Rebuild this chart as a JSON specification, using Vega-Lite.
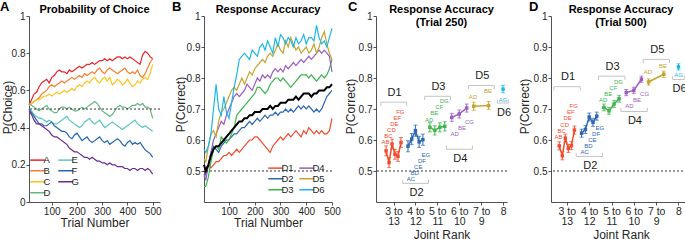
{
"$schema": "https://vega.github.io/schema/vega-lite/v6.json",
"padding": {"left": -1, "top": 0, "right": 0, "bottom": 0},
"bounds": "flush",
"spacing": 44,
"resolve": {"scale": {"x": "independent", "y": "independent", "color": "independent"}, "legend": {"color": "independent"}},
"datasets": {
"choice": [
{"t":10,"A":0.52,"B":0.52,"C":0.52,"D":0.53,"E":0.50,"F":0.50,"G":0.49},
{"t":20,"A":0.55,"B":0.53,"C":0.53,"D":0.52,"E":0.49,"F":0.48,"G":0.47},
{"t":30,"A":0.58,"B":0.54,"C":0.54,"D":0.51,"E":0.47,"F":0.46,"G":0.44},
{"t":40,"A":0.59,"B":0.55,"C":0.55,"D":0.50,"E":0.46,"F":0.44,"G":0.42},
{"t":50,"A":0.62,"B":0.56,"C":0.55,"D":0.49,"E":0.45,"F":0.42,"G":0.42},
{"t":60,"A":0.64,"B":0.58,"C":0.56,"D":0.50,"E":0.45,"F":0.42,"G":0.41},
{"t":70,"A":0.65,"B":0.59,"C":0.57,"D":0.51,"E":0.44,"F":0.41,"G":0.40},
{"t":80,"A":0.66,"B":0.60,"C":0.57,"D":0.52,"E":0.43,"F":0.41,"G":0.39},
{"t":90,"A":0.64,"B":0.62,"C":0.58,"D":0.50,"E":0.44,"F":0.42,"G":0.38},
{"t":100,"A":0.67,"B":0.63,"C":0.57,"D":0.49,"E":0.43,"F":0.43,"G":0.36},
{"t":110,"A":0.68,"B":0.62,"C":0.58,"D":0.48,"E":0.42,"F":0.41,"G":0.35},
{"t":120,"A":0.70,"B":0.63,"C":0.59,"D":0.48,"E":0.42,"F":0.40,"G":0.35},
{"t":130,"A":0.71,"B":0.64,"C":0.58,"D":0.50,"E":0.43,"F":0.39,"G":0.34},
{"t":140,"A":0.70,"B":0.65,"C":0.59,"D":0.51,"E":0.44,"F":0.38,"G":0.33},
{"t":150,"A":0.70,"B":0.64,"C":0.60,"D":0.51,"E":0.45,"F":0.38,"G":0.32},
{"t":160,"A":0.69,"B":0.65,"C":0.59,"D":0.50,"E":0.46,"F":0.37,"G":0.31},
{"t":170,"A":0.71,"B":0.66,"C":0.60,"D":0.51,"E":0.44,"F":0.35,"G":0.29},
{"t":180,"A":0.70,"B":0.67,"C":0.61,"D":0.50,"E":0.43,"F":0.34,"G":0.28},
{"t":190,"A":0.71,"B":0.66,"C":0.60,"D":0.49,"E":0.42,"F":0.36,"G":0.27},
{"t":200,"A":0.72,"B":0.67,"C":0.62,"D":0.49,"E":0.41,"F":0.37,"G":0.27},
{"t":210,"A":0.73,"B":0.68,"C":0.63,"D":0.50,"E":0.40,"F":0.35,"G":0.26},
{"t":220,"A":0.72,"B":0.67,"C":0.62,"D":0.51,"E":0.41,"F":0.33,"G":0.25},
{"t":230,"A":0.73,"B":0.69,"C":0.64,"D":0.50,"E":0.43,"F":0.34,"G":0.24},
{"t":240,"A":0.74,"B":0.68,"C":0.65,"D":0.51,"E":0.44,"F":0.35,"G":0.24},
{"t":250,"A":0.74,"B":0.69,"C":0.64,"D":0.52,"E":0.45,"F":0.33,"G":0.23},
{"t":260,"A":0.75,"B":0.70,"C":0.66,"D":0.53,"E":0.43,"F":0.32,"G":0.24},
{"t":270,"A":0.74,"B":0.69,"C":0.67,"D":0.54,"E":0.42,"F":0.33,"G":0.23},
{"t":280,"A":0.75,"B":0.71,"C":0.65,"D":0.53,"E":0.43,"F":0.34,"G":0.22},
{"t":290,"A":0.76,"B":0.72,"C":0.64,"D":0.51,"E":0.44,"F":0.35,"G":0.22},
{"t":300,"A":0.76,"B":0.70,"C":0.66,"D":0.49,"E":0.42,"F":0.33,"G":0.21},
{"t":310,"A":0.77,"B":0.69,"C":0.67,"D":0.48,"E":0.40,"F":0.32,"G":0.21},
{"t":320,"A":0.76,"B":0.71,"C":0.65,"D":0.47,"E":0.41,"F":0.33,"G":0.20},
{"t":330,"A":0.77,"B":0.72,"C":0.67,"D":0.46,"E":0.42,"F":0.31,"G":0.21},
{"t":340,"A":0.76,"B":0.71,"C":0.63,"D":0.47,"E":0.43,"F":0.32,"G":0.20},
{"t":350,"A":0.77,"B":0.70,"C":0.64,"D":0.49,"E":0.42,"F":0.33,"G":0.20},
{"t":360,"A":0.78,"B":0.69,"C":0.66,"D":0.51,"E":0.41,"F":0.34,"G":0.19},
{"t":370,"A":0.78,"B":0.70,"C":0.65,"D":0.52,"E":0.40,"F":0.33,"G":0.19},
{"t":380,"A":0.77,"B":0.71,"C":0.63,"D":0.51,"E":0.39,"F":0.31,"G":0.19},
{"t":390,"A":0.78,"B":0.72,"C":0.64,"D":0.51,"E":0.40,"F":0.30,"G":0.18},
{"t":400,"A":0.77,"B":0.70,"C":0.66,"D":0.50,"E":0.41,"F":0.32,"G":0.18},
{"t":410,"A":0.78,"B":0.69,"C":0.64,"D":0.51,"E":0.42,"F":0.33,"G":0.17},
{"t":420,"A":0.77,"B":0.70,"C":0.62,"D":0.52,"E":0.43,"F":0.31,"G":0.18},
{"t":430,"A":0.76,"B":0.69,"C":0.63,"D":0.52,"E":0.44,"F":0.32,"G":0.18},
{"t":440,"A":0.75,"B":0.71,"C":0.65,"D":0.53,"E":0.42,"F":0.31,"G":0.17},
{"t":450,"A":0.74,"B":0.68,"C":0.64,"D":0.52,"E":0.41,"F":0.32,"G":0.18},
{"t":460,"A":0.79,"B":0.67,"C":0.66,"D":0.53,"E":0.40,"F":0.30,"G":0.18},
{"t":470,"A":0.81,"B":0.69,"C":0.67,"D":0.51,"E":0.41,"F":0.28,"G":0.17},
{"t":480,"A":0.80,"B":0.72,"C":0.66,"D":0.51,"E":0.40,"F":0.27,"G":0.18},
{"t":490,"A":0.78,"B":0.75,"C":0.69,"D":0.50,"E":0.39,"F":0.26,"G":0.17},
{"t":500,"A":0.77,"B":0.77,"C":0.74,"D":0.45,"E":0.38,"F":0.24,"G":0.15}
],
"acc": [
{"t":3,"D1":0.50,"D2":0.48,"D3":0.45,"D4":0.49,"D5":0.54,"D6":0.57,"All":0.52},
{"t":10,"D1":0.51,"D2":0.49,"D3":0.45,"D4":0.47,"D5":0.53,"D6":0.56,"All":0.50},
{"t":20,"D1":0.52,"D2":0.52,"D3":0.48,"D4":0.52,"D5":0.58,"D6":0.58,"All":0.52},
{"t":30,"D1":0.51,"D2":0.56,"D3":0.53,"D4":0.56,"D5":0.62,"D6":0.62,"All":0.55},
{"t":40,"D1":0.52,"D2":0.58,"D3":0.57,"D4":0.60,"D5":0.63,"D6":0.70,"All":0.57},
{"t":50,"D1":0.53,"D2":0.57,"D3":0.58,"D4":0.62,"D5":0.61,"D6":0.78,"All":0.58},
{"t":60,"D1":0.53,"D2":0.56,"D3":0.57,"D4":0.64,"D5":0.66,"D6":0.70,"All":0.58},
{"t":70,"D1":0.54,"D2":0.58,"D3":0.61,"D4":0.66,"D5":0.69,"D6":0.68,"All":0.59},
{"t":80,"D1":0.55,"D2":0.59,"D3":0.60,"D4":0.65,"D5":0.70,"D6":0.74,"All":0.60},
{"t":90,"D1":0.55,"D2":0.60,"D3":0.59,"D4":0.68,"D5":0.72,"D6":0.69,"All":0.61},
{"t":100,"D1":0.56,"D2":0.60,"D3":0.60,"D4":0.70,"D5":0.74,"D6":0.67,"All":0.62},
{"t":110,"D1":0.55,"D2":0.61,"D3":0.62,"D4":0.72,"D5":0.76,"D6":0.72,"All":0.63},
{"t":120,"D1":0.56,"D2":0.62,"D3":0.64,"D4":0.74,"D5":0.77,"D6":0.77,"All":0.64},
{"t":130,"D1":0.57,"D2":0.62,"D3":0.68,"D4":0.75,"D5":0.76,"D6":0.81,"All":0.65},
{"t":140,"D1":0.56,"D2":0.63,"D3":0.69,"D4":0.74,"D5":0.78,"D6":0.86,"All":0.66},
{"t":150,"D1":0.57,"D2":0.64,"D3":0.70,"D4":0.75,"D5":0.80,"D6":0.87,"All":0.66},
{"t":160,"D1":0.58,"D2":0.64,"D3":0.71,"D4":0.76,"D5":0.78,"D6":0.88,"All":0.67},
{"t":170,"D1":0.59,"D2":0.65,"D3":0.72,"D4":0.78,"D5":0.80,"D6":0.87,"All":0.67},
{"t":180,"D1":0.60,"D2":0.66,"D3":0.73,"D4":0.77,"D5":0.82,"D6":0.86,"All":0.68},
{"t":190,"D1":0.60,"D2":0.65,"D3":0.74,"D4":0.76,"D5":0.81,"D6":0.89,"All":0.68},
{"t":200,"D1":0.61,"D2":0.66,"D3":0.75,"D4":0.78,"D5":0.83,"D6":0.88,"All":0.69},
{"t":210,"D1":0.61,"D2":0.67,"D3":0.77,"D4":0.80,"D5":0.84,"D6":0.87,"All":0.69},
{"t":220,"D1":0.60,"D2":0.66,"D3":0.77,"D4":0.79,"D5":0.85,"D6":0.90,"All":0.69},
{"t":230,"D1":0.59,"D2":0.67,"D3":0.76,"D4":0.81,"D5":0.86,"D6":0.91,"All":0.70},
{"t":240,"D1":0.58,"D2":0.68,"D3":0.75,"D4":0.80,"D5":0.85,"D6":0.89,"All":0.70},
{"t":250,"D1":0.57,"D2":0.67,"D3":0.76,"D4":0.81,"D5":0.87,"D6":0.92,"All":0.70},
{"t":260,"D1":0.56,"D2":0.68,"D3":0.78,"D4":0.80,"D5":0.88,"D6":0.90,"All":0.71},
{"t":270,"D1":0.58,"D2":0.68,"D3":0.79,"D4":0.82,"D5":0.87,"D6":0.88,"All":0.70},
{"t":280,"D1":0.59,"D2":0.69,"D3":0.80,"D4":0.83,"D5":0.89,"D6":0.93,"All":0.71},
{"t":290,"D1":0.60,"D2":0.68,"D3":0.80,"D4":0.82,"D5":0.91,"D6":0.90,"All":0.71},
{"t":300,"D1":0.61,"D2":0.69,"D3":0.79,"D4":0.83,"D5":0.89,"D6":0.94,"All":0.72},
{"t":310,"D1":0.60,"D2":0.69,"D3":0.80,"D4":0.82,"D5":0.88,"D6":0.93,"All":0.72},
{"t":320,"D1":0.61,"D2":0.70,"D3":0.79,"D4":0.84,"D5":0.92,"D6":0.91,"All":0.72},
{"t":330,"D1":0.62,"D2":0.69,"D3":0.78,"D4":0.83,"D5":0.90,"D6":0.93,"All":0.73},
{"t":340,"D1":0.61,"D2":0.70,"D3":0.77,"D4":0.84,"D5":0.93,"D6":0.92,"All":0.73},
{"t":350,"D1":0.62,"D2":0.69,"D3":0.78,"D4":0.85,"D5":0.91,"D6":0.90,"All":0.73},
{"t":360,"D1":0.63,"D2":0.70,"D3":0.79,"D4":0.84,"D5":0.89,"D6":0.93,"All":0.74},
{"t":370,"D1":0.62,"D2":0.71,"D3":0.80,"D4":0.85,"D5":0.90,"D6":0.91,"All":0.73},
{"t":380,"D1":0.61,"D2":0.70,"D3":0.81,"D4":0.86,"D5":0.88,"D6":0.92,"All":0.74},
{"t":390,"D1":0.63,"D2":0.71,"D3":0.81,"D4":0.85,"D5":0.89,"D6":0.94,"All":0.75},
{"t":400,"D1":0.62,"D2":0.70,"D3":0.81,"D4":0.86,"D5":0.90,"D6":0.91,"All":0.75},
{"t":410,"D1":0.64,"D2":0.71,"D3":0.80,"D4":0.87,"D5":0.88,"D6":0.93,"All":0.75},
{"t":420,"D1":0.63,"D2":0.70,"D3":0.81,"D4":0.86,"D5":0.89,"D6":0.93,"All":0.74},
{"t":430,"D1":0.62,"D2":0.69,"D3":0.80,"D4":0.87,"D5":0.91,"D6":0.92,"All":0.75},
{"t":440,"D1":0.63,"D2":0.70,"D3":0.79,"D4":0.88,"D5":0.88,"D6":0.97,"All":0.75},
{"t":450,"D1":0.62,"D2":0.69,"D3":0.80,"D4":0.89,"D5":0.90,"D6":0.93,"All":0.76},
{"t":460,"D1":0.63,"D2":0.70,"D3":0.81,"D4":0.88,"D5":0.93,"D6":0.91,"All":0.76},
{"t":470,"D1":0.62,"D2":0.72,"D3":0.80,"D4":0.89,"D5":0.95,"D6":0.92,"All":0.76},
{"t":480,"D1":0.62,"D2":0.74,"D3":0.81,"D4":0.88,"D5":0.91,"D6":0.90,"All":0.77},
{"t":490,"D1":0.63,"D2":0.75,"D3":0.83,"D4":0.87,"D5":0.88,"D6":0.93,"All":0.77},
{"t":500,"D1":0.67,"D2":0.76,"D3":0.86,"D4":0.82,"D5":0.86,"D6":0.96,"All":0.78}
],
"pairs": [
{"panel":"C","d":1,"i":0,"n":6,"pair":"AB","p":0.565,"e":0.016},
{"panel":"C","d":1,"i":1,"n":6,"pair":"BC","p":0.527,"e":0.016},
{"panel":"C","d":1,"i":2,"n":6,"pair":"CD","p":0.587,"e":0.016},
{"panel":"C","d":1,"i":3,"n":6,"pair":"DE","p":0.554,"e":0.016},
{"panel":"C","d":1,"i":4,"n":6,"pair":"EF","p":0.547,"e":0.016},
{"panel":"C","d":1,"i":5,"n":6,"pair":"FG","p":0.592,"e":0.016},
{"panel":"C","d":2,"i":0,"n":5,"pair":"AC","p":0.580,"e":0.018},
{"panel":"C","d":2,"i":1,"n":5,"pair":"BD","p":0.603,"e":0.018},
{"panel":"C","d":2,"i":2,"n":5,"pair":"CE","p":0.630,"e":0.018},
{"panel":"C","d":2,"i":3,"n":5,"pair":"DF","p":0.594,"e":0.018},
{"panel":"C","d":2,"i":4,"n":5,"pair":"EG","p":0.601,"e":0.018},
{"panel":"C","d":3,"i":0,"n":4,"pair":"AD","p":0.641,"e":0.015},
{"panel":"C","d":3,"i":1,"n":4,"pair":"BE","p":0.631,"e":0.015},
{"panel":"C","d":3,"i":2,"n":4,"pair":"CF","p":0.641,"e":0.015},
{"panel":"C","d":3,"i":3,"n":4,"pair":"DG","p":0.644,"e":0.015},
{"panel":"C","d":4,"i":0,"n":3,"pair":"AD","p":0.673,"e":0.013},
{"panel":"C","d":4,"i":1,"n":3,"pair":"BE","p":0.684,"e":0.013},
{"panel":"C","d":4,"i":2,"n":3,"pair":"CG","p":0.703,"e":0.013},
{"panel":"C","d":5,"i":0,"n":2,"pair":"AD","p":0.709,"e":0.013},
{"panel":"C","d":5,"i":1,"n":2,"pair":"BE","p":0.711,"e":0.013},
{"panel":"C","d":6,"i":0,"n":1,"pair":"AG","p":0.764,"e":0.012},
{"panel":"D","d":1,"i":0,"n":6,"pair":"AB","p":0.581,"e":0.013},
{"panel":"D","d":1,"i":1,"n":6,"pair":"BC","p":0.549,"e":0.013},
{"panel":"D","d":1,"i":2,"n":6,"pair":"CD","p":0.606,"e":0.013},
{"panel":"D","d":1,"i":3,"n":6,"pair":"DE","p":0.573,"e":0.013},
{"panel":"D","d":1,"i":4,"n":6,"pair":"EF","p":0.582,"e":0.013},
{"panel":"D","d":1,"i":5,"n":6,"pair":"FG","p":0.632,"e":0.013},
{"panel":"D","d":2,"i":0,"n":5,"pair":"AC","p":0.622,"e":0.013},
{"panel":"D","d":2,"i":1,"n":5,"pair":"BD","p":0.634,"e":0.013},
{"panel":"D","d":2,"i":2,"n":5,"pair":"CE","p":0.674,"e":0.013},
{"panel":"D","d":2,"i":3,"n":5,"pair":"DF","p":0.657,"e":0.013},
{"panel":"D","d":2,"i":4,"n":5,"pair":"EG","p":0.677,"e":0.013},
{"panel":"D","d":3,"i":0,"n":4,"pair":"AD","p":0.705,"e":0.011},
{"panel":"D","d":3,"i":1,"n":4,"pair":"BE","p":0.694,"e":0.011},
{"panel":"D","d":3,"i":2,"n":4,"pair":"CF","p":0.716,"e":0.011},
{"panel":"D","d":3,"i":3,"n":4,"pair":"DG","p":0.733,"e":0.011},
{"panel":"D","d":4,"i":0,"n":3,"pair":"AD","p":0.753,"e":0.010},
{"panel":"D","d":4,"i":1,"n":3,"pair":"BE","p":0.760,"e":0.010},
{"panel":"D","d":4,"i":2,"n":3,"pair":"CG","p":0.796,"e":0.010},
{"panel":"D","d":5,"i":0,"n":2,"pair":"AD","p":0.787,"e":0.010},
{"panel":"D","d":5,"i":1,"n":2,"pair":"BE","p":0.812,"e":0.010},
{"panel":"D","d":6,"i":0,"n":1,"pair":"AG","p":0.836,"e":0.010}
],
"groups": [
{"panel":"C","d":1},{"panel":"C","d":2},{"panel":"C","d":3},{"panel":"C","d":4},{"panel":"C","d":5},{"panel":"C","d":6},
{"panel":"D","d":1},{"panel":"D","d":2},{"panel":"D","d":3},{"panel":"D","d":4},{"panel":"D","d":5},{"panel":"D","d":6}
]
},
"hconcat": [
{
"width": 131, "height": 186,
"title": {"text": "Probability of Choice", "offset": -14},
"layer": [
{"data": {"name": "choice"},
 "transform": [{"fold": ["A","B","C","D","E","F","G"], "as": ["series","value"]}],
 "mark": {"type": "line", "strokeWidth": 1.2},
 "encoding": {
  "x": {"field": "t", "type": "quantitative", "scale": {"domain": [10, 529], "nice": false, "zero": false}, "axis": {"values": [100,200,300,400,500], "tickCount": 20, "labelOverlap": false, "labelFlush": false, "title": "Trial Number", "titlePadding": 1}},
  "y": {"field": "value", "type": "quantitative", "scale": {"domain": [0, 1], "nice": false}, "axis": {"values": [0,0.2,0.4,0.6,0.8,1], "tickCount": 20, "labelOverlap": false, "labelFlush": false, "format": ".1~f", "title": "P(Choice)", "titleX": -22, "titleY": 91, "titleBaseline": "middle", "titleAlign": "center"}},
  "color": {"field": "series", "type": "nominal", "scale": {"domain": ["A","B","C","D","E","F","G"], "range": ["#e8242a","#f57e2f","#fcc417","#62b97e","#5ec7c0","#2466b1","#6b2b8f"]},
   "legend": {"orient": "bottom-left", "columns": 2, "values": ["A","B","C","D","E","F","G"], "title": null, "symbolType": "M-2,0H2", "symbolSize": 56, "symbolStrokeWidth": 1.5, "labelFontSize": 9.5, "rowPadding": 0, "columnPadding": 4, "offset": 4, "labelOffset": 1, "padding": 0}}
 }},
{"data": {"values": [{}]},
 "mark": {"type": "rule", "strokeDash": [2, 2], "color": "#000", "strokeWidth": 0.8},
 "encoding": {"y": {"datum": 0.5, "type": "quantitative"}}},
{"data": {"values": [{}]},
 "mark": {"type": "text", "text": "A", "fontSize": 13, "fontWeight": "bold", "align": "left", "baseline": "alphabetic", "color": "#000"},
 "encoding": {"x": {"datum": -105, "type": "quantitative"}, "y": {"datum": 1.027, "type": "quantitative"}}}
]
},
{
"width": 128, "height": 186,
"title": {"text": "Response Accuracy", "offset": -14},
"layer": [
{"data": {"name": "acc"},
 "transform": [{"fold": ["D1","D2","D3","D4","D5","D6"], "as": ["series","value"]}],
 "mark": {"type": "line", "strokeWidth": 1.2},
 "encoding": {
  "x": {"field": "t", "type": "quantitative", "scale": {"domain": [3, 500], "nice": false, "zero": false}, "axis": {"values": [100,200,300,400,500], "tickCount": 20, "labelOverlap": false, "labelFlush": false, "title": "Trial Number", "titlePadding": 1}},
  "y": {"field": "value", "type": "quantitative", "scale": {"domain": [0.4, 1], "nice": false, "zero": false}, "axis": {"values": [0.5,0.6,0.7,0.8,0.9,1], "tickCount": 20, "labelOverlap": false, "labelFlush": false, "format": ".1~f", "title": "P(Correct)", "titleX": -24, "titleY": 88, "titleBaseline": "middle", "titleAlign": "center"}},
  "color": {"field": "series", "type": "nominal", "scale": {"domain": ["D1","D2","D3","D4","D5","D6"], "range": ["#f04b2c","#2c67b4","#3db54c","#9b5dc1","#c5a42e","#1db7e7"]},
   "legend": {"orient": "bottom-right", "columns": 2, "values": ["D1","D2","D3","D4","D5","D6"], "title": null, "symbolType": "M-2,0H2", "symbolSize": 56, "symbolStrokeWidth": 1.5, "labelFontSize": 9.5, "rowPadding": 0, "columnPadding": 2, "offset": 7, "labelOffset": 1, "padding": 0}}
 }},
{"data": {"name": "acc"},
 "mark": {"type": "line", "strokeWidth": 2, "color": "#000"},
 "encoding": {
  "x": {"field": "t", "type": "quantitative"},
  "y": {"field": "All", "type": "quantitative"}
 }},
{"data": {"values": [{}]},
 "mark": {"type": "rule", "strokeDash": [2, 2], "color": "#000", "strokeWidth": 0.8},
 "encoding": {"y": {"datum": 0.5, "type": "quantitative"}}},
{"data": {"values": [{}]},
 "mark": {"type": "text", "text": "B", "fontSize": 13, "fontWeight": "bold", "align": "left", "baseline": "alphabetic", "color": "#000"},
 "encoding": {"x": {"datum": -121, "type": "quantitative"}, "y": {"datum": 1.016, "type": "quantitative"}}}
]
},
{
"width": 131, "height": 186,
"title": {"text": ["Response Accuracy", "(Trial 250)"], "lineHeight": 13, "offset": -27},
"layer": [
{"data": {"values": [{}]},
 "mark": {"type": "rule", "strokeDash": [2, 2], "color": "#000", "strokeWidth": 0.8},
 "encoding": {"y": {"datum": 0.5, "type": "quantitative", "scale": {"domain": [0.4, 1], "nice": false, "zero": false}, "axis": {"values": [0.5,0.6,0.7,0.8,0.9,1], "tickCount": 20, "labelOverlap": false, "labelFlush": false, "format": ".1~f", "title": "P(Correct)", "titleX": -26, "titleY": 90, "titleBaseline": "middle", "titleAlign": "center"}}}},
{"data": {"name": "groups"},
 "transform": [
  {"filter": "datum.panel == 'C'"},
  {"calculate": "[0, 0.722, 0.46, 0.741, 0.57, 0.776, 0.719][datum.d]", "as": "by"},
  {"calculate": "datum.d % 2 == 1 ? 1 : -1", "as": "side"},
  {"calculate": "datum.by - datum.side * 0.012", "as": "bend"},
  {"calculate": "datum.by + datum.side * 0.031", "as": "ty"},
  {"calculate": "datum.d == 6 ? datum.d - 0.26 : datum.d - 0.58", "as": "bx1"},
  {"calculate": "datum.d == 6 ? datum.d + 0.26 : datum.d + 0.6", "as": "bx2"},
  {"calculate": "datum.d + 0.05", "as": "tx"},
  {"calculate": "'D' + datum.d", "as": "grp"}
 ],
 "layer": [
  {"mark": {"type": "rule", "color": "#c4c4c4", "strokeWidth": 1},
   "encoding": {"x": {"field": "bx1", "type": "quantitative", "scale": {"domain": [0.2, 6.18], "nice": false, "zero": false}, "axis": {"values": [1,2,3,4,5,6], "tickCount": 20, "labelOverlap": false, "labelFlush": false, "labelExpr": "datum.value == 6 ? '8' : [(datum.value + 2) + ' to', '' + (14 - datum.value)]", "labelLineHeight": 10, "labelFontSize": 10.5, "title": "Joint Rank", "titlePadding": 3}}, "x2": {"field": "bx2"}, "y": {"field": "by", "type": "quantitative"}}},
  {"mark": {"type": "rule", "color": "#c4c4c4", "strokeWidth": 1},
   "encoding": {"x": {"field": "bx1", "type": "quantitative"}, "y": {"field": "by", "type": "quantitative"}, "y2": {"field": "bend"}}},
  {"mark": {"type": "rule", "color": "#c4c4c4", "strokeWidth": 1},
   "encoding": {"x": {"field": "bx2", "type": "quantitative"}, "y": {"field": "by", "type": "quantitative"}, "y2": {"field": "bend"}}},
  {"mark": {"type": "text", "fontSize": 11, "color": "#1a1a1a", "baseline": "middle"},
   "encoding": {"x": {"field": "tx", "type": "quantitative"}, "y": {"field": "ty", "type": "quantitative"}, "text": {"field": "grp"}}}
 ]},
{"data": {"name": "pairs"},
 "transform": [
  {"filter": "datum.panel == 'C'"},
  {"calculate": "datum.n > 1 ? datum.d + (datum.i / (datum.n - 1) - 0.5) * 0.68 : datum.d", "as": "xpos"},
  {"calculate": "datum.p - datum.e", "as": "lo"},
  {"calculate": "datum.p + datum.e", "as": "hi"},
  {"calculate": "'D' + datum.d", "as": "grp"},
  {"calculate": "[0, 0.592, 0.473, 0.666, 0.619, 0.738, 0.729][datum.d] + datum.i * 0.0195", "as": "ly"},
  {"calculate": "datum.d == 6 ? datum.xpos : (datum.d % 2 == 1 ? datum.xpos - 0.03 : datum.xpos + 0.13)", "as": "lx"}
 ],
 "layer": [
  {"mark": {"type": "rule", "strokeWidth": 1},
   "encoding": {"x": {"field": "xpos", "type": "quantitative"}, "y": {"field": "lo", "type": "quantitative"}, "y2": {"field": "hi"},
    "color": {"field": "grp", "type": "nominal", "scale": {"domain": ["D1","D2","D3","D4","D5","D6"], "range": ["#f04b2c","#2c67b4","#3db54c","#9b5dc1","#c5a42e","#1db7e7"]}, "legend": null}}},
  {"mark": {"type": "tick", "orient": "horizontal", "size": 4, "thickness": 1},
   "encoding": {"x": {"field": "xpos", "type": "quantitative"}, "y": {"field": "lo", "type": "quantitative"}, "color": {"field": "grp", "type": "nominal", "legend": null}}},
  {"mark": {"type": "tick", "orient": "horizontal", "size": 4, "thickness": 1},
   "encoding": {"x": {"field": "xpos", "type": "quantitative"}, "y": {"field": "hi", "type": "quantitative"}, "color": {"field": "grp", "type": "nominal", "legend": null}}},
  {"mark": {"type": "line", "strokeWidth": 1.5},
   "encoding": {"x": {"field": "xpos", "type": "quantitative"}, "y": {"field": "p", "type": "quantitative"}, "color": {"field": "grp", "type": "nominal", "legend": null}}},
  {"mark": {"type": "point", "shape": "square", "filled": true, "size": 12, "opacity": 1},
   "encoding": {"x": {"field": "xpos", "type": "quantitative"}, "y": {"field": "p", "type": "quantitative"}, "color": {"field": "grp", "type": "nominal", "legend": null}}},
  {"mark": {"type": "text", "fontSize": 6, "baseline": "middle"},
   "encoding": {"x": {"field": "lx", "type": "quantitative"}, "y": {"field": "ly", "type": "quantitative"}, "text": {"field": "pair"}, "color": {"field": "grp", "type": "nominal", "legend": null}}}
 ]},
{"data": {"values": [{}]},
 "mark": {"type": "text", "text": "C", "fontSize": 13, "fontWeight": "bold", "align": "left", "baseline": "alphabetic", "color": "#000"},
 "encoding": {"x": {"datum": -1.08, "type": "quantitative"}, "y": {"datum": 1.016, "type": "quantitative"}}}
]
},
{
"width": 140, "height": 186,
"title": {"text": ["Response Accuracy", "(Trial 500)"], "lineHeight": 13, "offset": -27},
"layer": [
{"data": {"values": [{}]},
 "mark": {"type": "rule", "strokeDash": [2, 2], "color": "#000", "strokeWidth": 0.8},
 "encoding": {"y": {"datum": 0.5, "type": "quantitative", "scale": {"domain": [0.4, 1], "nice": false, "zero": false}, "axis": {"values": [0.5,0.6,0.7,0.8,0.9,1], "tickCount": 20, "labelOverlap": false, "labelFlush": false, "format": ".1~f", "title": "P(Correct)", "titleX": -27, "titleY": 90, "titleBaseline": "middle", "titleAlign": "center"}}}},
{"data": {"name": "groups"},
 "transform": [
  {"filter": "datum.panel == 'D'"},
  {"calculate": "[0, 0.772, 0.547, 0.806, 0.692, 0.86, 0.795][datum.d]", "as": "by"},
  {"calculate": "datum.d % 2 == 1 ? 1 : -1", "as": "side"},
  {"calculate": "datum.by - datum.side * 0.012", "as": "bend"},
  {"calculate": "datum.by + datum.side * 0.031", "as": "ty"},
  {"calculate": "datum.d == 6 ? datum.d - 0.26 : datum.d - 0.58", "as": "bx1"},
  {"calculate": "datum.d == 6 ? datum.d + 0.26 : datum.d + 0.6", "as": "bx2"},
  {"calculate": "datum.d + 0.05", "as": "tx"},
  {"calculate": "'D' + datum.d", "as": "grp"}
 ],
 "layer": [
  {"mark": {"type": "rule", "color": "#c4c4c4", "strokeWidth": 1},
   "encoding": {"x": {"field": "bx1", "type": "quantitative", "scale": {"domain": [0.29, 6.56], "nice": false, "zero": false}, "axis": {"values": [1,2,3,4,5,6], "tickCount": 20, "labelOverlap": false, "labelFlush": false, "labelExpr": "datum.value == 6 ? '8' : [(datum.value + 2) + ' to', '' + (14 - datum.value)]", "labelLineHeight": 10, "labelFontSize": 10.5, "title": "Joint Rank", "titlePadding": 3}}, "x2": {"field": "bx2"}, "y": {"field": "by", "type": "quantitative"}}},
  {"mark": {"type": "rule", "color": "#c4c4c4", "strokeWidth": 1},
   "encoding": {"x": {"field": "bx1", "type": "quantitative"}, "y": {"field": "by", "type": "quantitative"}, "y2": {"field": "bend"}}},
  {"mark": {"type": "rule", "color": "#c4c4c4", "strokeWidth": 1},
   "encoding": {"x": {"field": "bx2", "type": "quantitative"}, "y": {"field": "by", "type": "quantitative"}, "y2": {"field": "bend"}}},
  {"mark": {"type": "text", "fontSize": 11, "color": "#1a1a1a", "baseline": "middle"},
   "encoding": {"x": {"field": "tx", "type": "quantitative"}, "y": {"field": "ty", "type": "quantitative"}, "text": {"field": "grp"}}}
 ]},
{"data": {"name": "pairs"},
 "transform": [
  {"filter": "datum.panel == 'D'"},
  {"calculate": "datum.n > 1 ? datum.d + (datum.i / (datum.n - 1) - 0.5) * 0.68 : datum.d", "as": "xpos"},
  {"calculate": "datum.p - datum.e", "as": "lo"},
  {"calculate": "datum.p + datum.e", "as": "hi"},
  {"calculate": "'D' + datum.d", "as": "grp"},
  {"calculate": "[0, 0.611, 0.56, 0.729, 0.709, 0.819, 0.81][datum.d] + datum.i * 0.0195", "as": "ly"},
  {"calculate": "datum.d == 6 ? datum.xpos : (datum.d % 2 == 1 ? datum.xpos - 0.03 : datum.xpos + 0.14)", "as": "lx"}
 ],
 "layer": [
  {"mark": {"type": "rule", "strokeWidth": 1},
   "encoding": {"x": {"field": "xpos", "type": "quantitative"}, "y": {"field": "lo", "type": "quantitative"}, "y2": {"field": "hi"},
    "color": {"field": "grp", "type": "nominal", "scale": {"domain": ["D1","D2","D3","D4","D5","D6"], "range": ["#f04b2c","#2c67b4","#3db54c","#9b5dc1","#c5a42e","#1db7e7"]}, "legend": null}}},
  {"mark": {"type": "tick", "orient": "horizontal", "size": 4, "thickness": 1},
   "encoding": {"x": {"field": "xpos", "type": "quantitative"}, "y": {"field": "lo", "type": "quantitative"}, "color": {"field": "grp", "type": "nominal", "legend": null}}},
  {"mark": {"type": "tick", "orient": "horizontal", "size": 4, "thickness": 1},
   "encoding": {"x": {"field": "xpos", "type": "quantitative"}, "y": {"field": "hi", "type": "quantitative"}, "color": {"field": "grp", "type": "nominal", "legend": null}}},
  {"mark": {"type": "line", "strokeWidth": 1.5},
   "encoding": {"x": {"field": "xpos", "type": "quantitative"}, "y": {"field": "p", "type": "quantitative"}, "color": {"field": "grp", "type": "nominal", "legend": null}}},
  {"mark": {"type": "point", "shape": "square", "filled": true, "size": 12, "opacity": 1},
   "encoding": {"x": {"field": "xpos", "type": "quantitative"}, "y": {"field": "p", "type": "quantitative"}, "color": {"field": "grp", "type": "nominal", "legend": null}}},
  {"mark": {"type": "text", "fontSize": 6, "baseline": "middle"},
   "encoding": {"x": {"field": "lx", "type": "quantitative"}, "y": {"field": "ly", "type": "quantitative"}, "text": {"field": "pair"}, "color": {"field": "grp", "type": "nominal", "legend": null}}}
 ]},
{"data": {"values": [{}]},
 "mark": {"type": "text", "text": "D", "fontSize": 13, "fontWeight": "bold", "align": "left", "baseline": "alphabetic", "color": "#000"},
 "encoding": {"x": {"datum": -0.695, "type": "quantitative"}, "y": {"datum": 1.016, "type": "quantitative"}}}
]
}
],
"config": {
 "font": "Liberation Sans",
 "view": {"stroke": null},
 "axis": {"grid": false, "labelOverlap": false, "labelFlush": false, "domainColor": "#262626", "tickColor": "#262626", "labelColor": "#262626", "titleColor": "#262626", "labelFontSize": 10, "titleFontSize": 12, "titleFontWeight": "normal", "tickSize": 3, "labelPadding": 1, "domainWidth": 0.8, "tickWidth": 0.8},
 "title": {"fontSize": 11, "fontWeight": "bold", "color": "#000"},
 "legend": {"labelColor": "#262626"}
}
}
